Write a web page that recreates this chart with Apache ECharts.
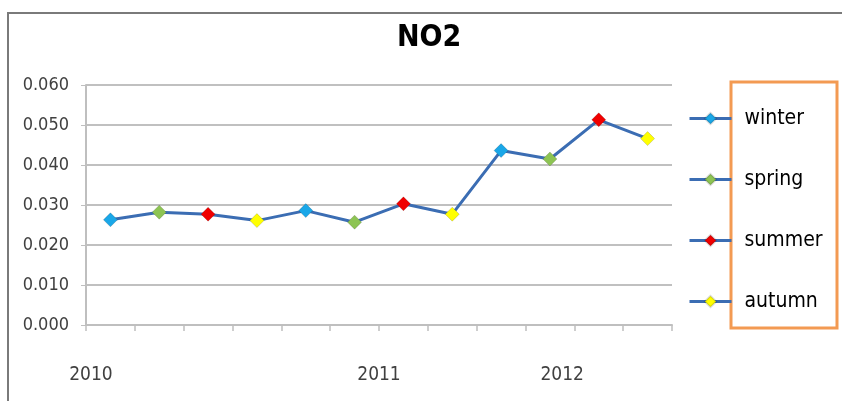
<!DOCTYPE html>
<html>
<head>
  <meta charset="utf-8">
  <title>NO2</title>
  <script src="https://cdn.jsdelivr.net/npm/echarts@6/dist/echarts.min.js"></script>
</head>
<body style="margin:0">
  <div id="main" style="width:842px;height:401px;"></div>
  <script type="text/javascript">
    // data
    var seasons = ['winter', 'spring', 'summer', 'autumn'];
    var seasonColors = ['#1aa7e8', '#8dc453', '#f00000', '#ffff00'];
    var categories = ['2010 winter', '2010 spring', '2010 summer', '2010 autumn',
                      '2011 winter', '2011 spring', '2011 summer', '2011 autumn',
                      '2012 winter', '2012 spring', '2012 summer', '2012 autumn'];
    var no2 = [0.0263, 0.0282, 0.0277, 0.0261, 0.0286, 0.0257, 0.0303, 0.0277, 0.0436, 0.0415, 0.0513, 0.0466];
    var yearLabels = ['2010', '2011', '2012'];
    var yearPos = [0.1, 6.0, 9.75];

    var font = '"DejaVu Sans Condensed", "Liberation Sans Narrow", sans-serif';
    var lineBlue = '#3b6db3';

    var myChart = echarts.init(document.getElementById('main'));

    // one line through all points, then one series per season for the coloured diamonds
    var series = [{
      name: 'NO2',
      type: 'line',
      data: no2,
      symbol: 'none',
      silent: true,
      z: 2,
      lineStyle: { color: lineBlue, width: 3 }
    }];
    seasons.forEach(function (s, k) {
      series.push({
        name: s,
        type: 'line',
        data: no2.map(function (v, i) { return i % 4 === k ? v : null; }),
        symbol: 'diamond',
        symbolSize: 14,
        showAllSymbol: true,
        z: 3,
        lineStyle: { color: lineBlue, width: 3 },
        itemStyle: { color: seasonColors[k], borderColor: 'rgba(0,0,0,0.15)', borderWidth: 1 }
      });
    });

    var option = {
      animation: false,
      title: {
        text: 'NO2',
        left: 392,
        top: 18,
        textStyle: { fontFamily: font, fontSize: 30, fontWeight: 'bold', color: '#000' }
      },
      legend: {
        data: seasons,
        orient: 'vertical',
        left: 683,
        top: 103,
        itemWidth: 42,
        itemHeight: 14,
        itemGap: 40,
        lineStyle: { width: 3 },
        textStyle: { fontFamily: font, fontSize: 21, color: '#000', padding: [0, 0, 0, 8] }
      },
      grid: { left: 86, right: 170, top: 85, bottom: 76 },
      xAxis: [{
        type: 'category',
        data: categories,
        boundaryGap: true,
        axisLine: { lineStyle: { color: '#bfbfbf', width: 2 } },
        axisTick: { show: true, interval: 0, length: 6, lineStyle: { color: '#bfbfbf', width: 1.5 } },
        axisLabel: { show: false, interval: 0 }
      }, {
        type: 'value',
        min: 0,
        max: 12,
        position: 'bottom',
        axisLine: { show: false },
        axisTick: { show: false },
        splitLine: { show: false },
        axisLabel: {
          customValues: yearPos,
          margin: 41,
          fontFamily: font,
          fontSize: 19,
          color: '#404040',
          formatter: function (v) {
            var i = yearPos.indexOf(v);
            return i < 0 ? '' : yearLabels[i];
          }
        }
      }],
      yAxis: {
        type: 'value',
        min: 0,
        max: 0.06,
        interval: 0.01,
        axisLine: { show: true, lineStyle: { color: '#bfbfbf', width: 2 } },
        axisTick: { show: true, length: 5, lineStyle: { color: '#bfbfbf' } },
        splitLine: { lineStyle: { color: '#c0c0c0', width: 2 } },
        axisLabel: {
          margin: 17,
          fontFamily: font,
          fontSize: 18,
          color: '#404040',
          formatter: function (v) { return v.toFixed(3); }
        }
      },
      graphic: [{
        type: 'rect',
        shape: { x: 8, y: 13, width: 900, height: 500 },
        style: { fill: 'none', stroke: '#7a7a7a', lineWidth: 2 },
        silent: true
      }, {
        type: 'rect',
        shape: { x: 731, y: 82, width: 106, height: 246 },
        style: { fill: 'none', stroke: '#f39a52', lineWidth: 3 },
        silent: true
      }],
      series: series
    };

    myChart.setOption(option);
  </script>
</body>
</html>
